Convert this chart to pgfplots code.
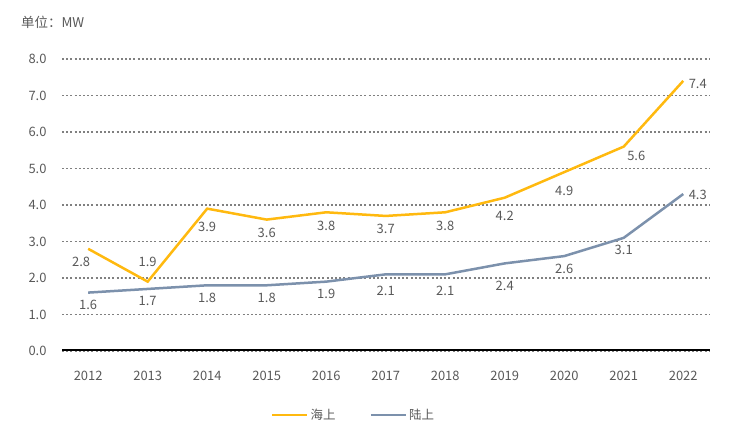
\documentclass[border=0pt]{standalone}
\usepackage{fontspec}
\setmainfont{Noto Sans CJK SC}
\usepackage{pgfplots}
\pgfplotsset{compat=1.18}
\definecolor{haishang}{RGB}{255,185,15}
\definecolor{lushang}{RGB}{124,145,172}
\definecolor{txt}{RGB}{89,89,89}
\definecolor{gridc}{RGB}{128,128,128}

\begin{document}
\begin{tikzpicture}[x=1bp,y=1bp]
\path[use as bounding box] (0,0) rectangle (730,434);
\node[anchor=west, text=txt, font=\fontsize{13.5}{15}\selectfont, inner sep=0] at (21,412) {单位：MW};
\begin{axis}[
  at={(62bp,83bp)}, anchor=south west,
  scale only axis, width=648bp, height=292bp,
  xmin=2011.56, xmax=2022.45, ymin=0, ymax=8,
  axis line style={draw=none},
  xtick={2012,2013,2014,2015,2016,2017,2018,2019,2020,2021,2022},
  ytick={0,1,2,3,4,5,6,7,8},
  major tick length=0,
  ymajorgrids,
  major grid style={gridc, line width=1.4bp, dash pattern=on 2bp off 2.2bp},
  /pgf/number format/assume math mode=true,
  xticklabel style={/pgf/number format/set thousands separator={}, text=txt, font=\fontsize{13}{15}\selectfont, yshift=-17bp},
  yticklabel style={/pgf/number format/.cd, fixed, fixed zerofill, precision=1, /tikz/.cd, text=txt, font=\fontsize{13}{15}\selectfont, xshift=-12bp},
  legend style={at={(0.45,-0.219)}, anchor=center, draw=none, fill=none,
    legend columns=2, font=\fontsize{12.5}{14}\selectfont, text=txt,
    /tikz/every even column/.append style={column sep=32bp}},
  legend image code/.code={\draw[#1] (-7bp,0bp) -- (28bp,0bp);},
  lbl/.style={draw=none, mark=none, forget plot, nodes near coords={\pgfmathprintnumber[fixed,fixed zerofill,precision=1]{\pgfplotspointmeta}},
    nodes near coords style={text=txt, font=\fontsize{13}{15}\selectfont}},
]
\addplot[haishang, line width=2.5bp] coordinates {
  (2012,2.8) (2013,1.9) (2014,3.9) (2015,3.6) (2016,3.8) (2017,3.7)
  (2018,3.8) (2019,4.2) (2020,4.9) (2021,5.6) (2022,7.4)};
\addlegendentry{海上}
\addplot[lushang, line width=2.5bp] coordinates {
  (2012,1.6) (2013,1.7) (2014,1.8) (2015,1.8) (2016,1.9) (2017,2.1)
  (2018,2.1) (2019,2.4) (2020,2.6) (2021,3.1) (2022,4.3)};
\addlegendentry{陆上}

% data labels
\addplot[lbl, nodes near coords style={anchor=north, yshift=-5bp}] coordinates {
  (2015,3.6) (2016,3.8) (2017,3.7) (2018,3.8)};
\addplot[lbl, nodes near coords style={anchor=north, xshift=-7bp, yshift=-5bp}] coordinates {(2012,2.8)};
\addplot[lbl, nodes near coords style={anchor=north, yshift=-10bp}] coordinates {
  (2014,3.9) (2019,4.2) (2020,4.9)};
\addplot[lbl, nodes near coords style={anchor=south, yshift=11bp}] coordinates {(2013,1.9)};
\addplot[lbl, nodes near coords style={anchor=north west, xshift=0bp, yshift=-1bp}] coordinates {(2021,5.6)};
\addplot[lbl, nodes near coords style={anchor=west, xshift=2bp, yshift=-3bp}] coordinates {(2022,7.4)};
\addplot[lbl, nodes near coords style={anchor=north, yshift=-4bp}] coordinates {
  (2012,1.6) (2013,1.7) (2014,1.8) (2015,1.8) (2016,1.9) (2020,2.6) (2021,3.1)};
\addplot[lbl, nodes near coords style={anchor=north, yshift=-8bp}] coordinates {
  (2017,2.1) (2018,2.1)};
\addplot[lbl, nodes near coords style={anchor=north, yshift=-14bp}] coordinates {(2019,2.4)};
\addplot[lbl, nodes near coords style={anchor=west, xshift=2bp, yshift=-1bp}] coordinates {(2022,4.3)};

\draw[black, line width=3bp] (rel axis cs:0,0) -- (rel axis cs:1,0);
\end{axis}
\end{tikzpicture}
\end{document}
